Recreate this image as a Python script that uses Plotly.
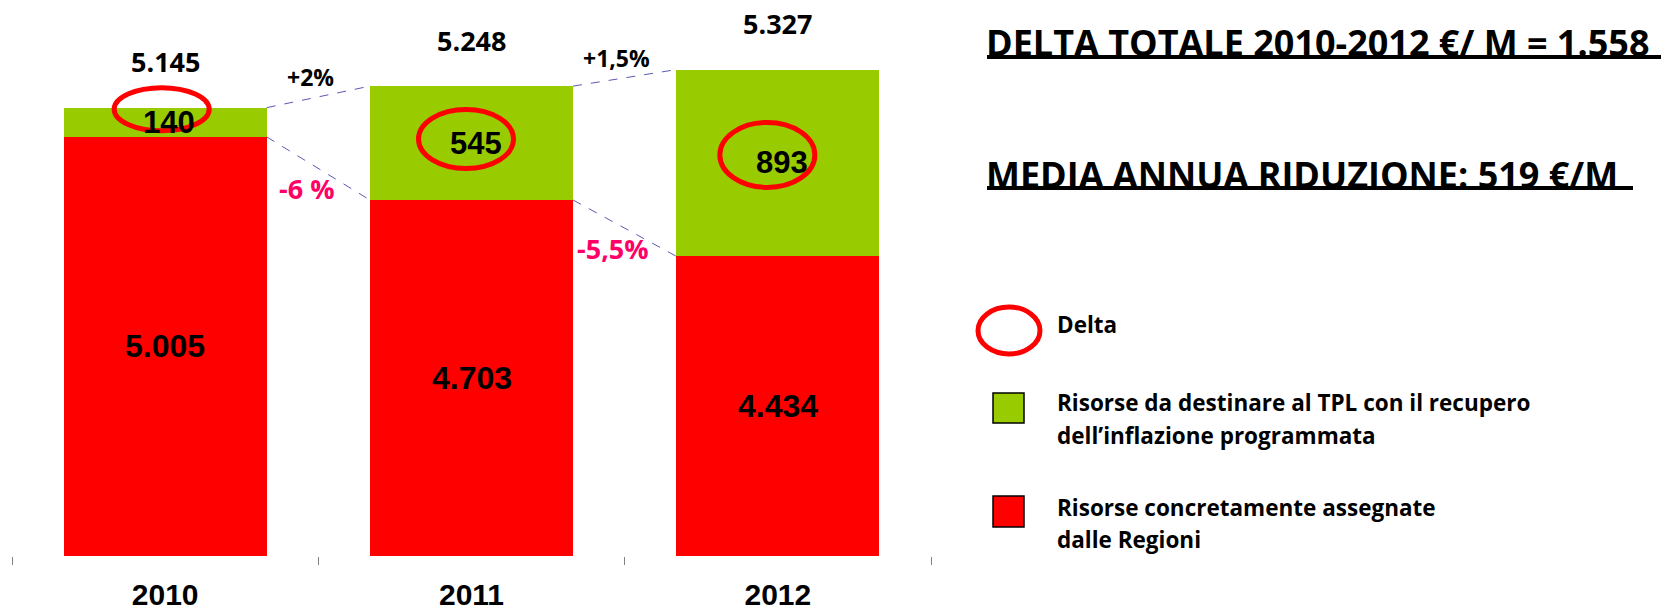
import plotly.graph_objects as go

# dati (milioni di euro)
anni = ['2010', '2011', '2012']
assegnate = [5005, 4703, 4434]      # risorse concretamente assegnate dalle Regioni
delta = [140, 545, 893]             # risorse da destinare con recupero inflazione
totale = [5145, 5248, 5327]
var_totale = ['+2%', '+1,5%']
var_assegnate = ['-6 %', '-5,5%']

titolo1 = 'DELTA TOTALE 2010-2012 €/ M = 1.558'
titolo2 = 'MEDIA ANNUA RIDUZIONE: 519 €/M'
leg_delta = ['Delta']
leg_verde = ['Risorse da destinare al TPL con il recupero', 'dell’inflazione programmata']
leg_rosso = ['Risorse concretamente assegnate', 'dalle Regioni']

# stile
W, H = 1668, 611
VERDE = '#99CC00'
ROSSO = '#FF0000'
ROSA = '#FF0066'
BLU = '#5A5AB4'
Y_MIN = 3000
BAR_W = 0.663
ELL_DX = [-4, -6, -11]
ELL_DY = [13, 4, 8]
ELL_H = [43, 59, 65]
CALIBRI = 'Open Sans'
ARIAL = 'Liberation Sans'


def fmt(v):
    return f'{v:,}'.replace(',', '.')


def px(x):
    return x / W


def py(y):
    return 1 - y / H


fig = go.Figure()
fig.add_trace(go.Bar(x=anni, y=assegnate, marker=dict(color=ROSSO, line=dict(width=0)),
                     width=BAR_W, name='Risorse concretamente assegnate'))
fig.add_trace(go.Bar(x=anni, y=delta, marker=dict(color=VERDE, line=dict(width=0)),
                     width=BAR_W, name='Risorse da destinare al TPL'))

ann = []
shapes = []
for i in range(len(anni)):
    # valori dentro le barre
    ann.append(dict(x=i, y=(Y_MIN + assegnate[i]) / 2, text=fmt(assegnate[i]), showarrow=False,
                    xref='x', yref='y', font=dict(family=ARIAL, size=32, color='black', weight='bold')))
    mid = assegnate[i] + delta[i] / 2
    ann.append(dict(x=i, y=mid, text=fmt(delta[i]), showarrow=False, xshift=4,
                    xref='x', yref='y', font=dict(family=ARIAL, size=31, color='black', weight='bold')))
    ann.append(dict(x=i, y=totale[i], text=fmt(totale[i]), showarrow=False, yshift=46,
                    xref='x', yref='y', font=dict(family=CALIBRI, size=27, color='black', weight='bold')))
    # cerchi rossi sul delta
    shapes.append(dict(type='circle', xref='x', yref='y', xsizemode='pixel', ysizemode='pixel',
                       xanchor=i, yanchor=mid,
                       x0=-47 + ELL_DX[i], x1=48 + ELL_DX[i],
                       y0=-ELL_H[i] / 2 + ELL_DY[i], y1=ELL_H[i] / 2 + ELL_DY[i],
                       line=dict(color=ROSSO, width=5)))

for i in range(len(anni) - 1):
    x0 = i + BAR_W / 2
    x1 = i + 1 - BAR_W / 2
    shapes.append(dict(type='line', xref='x', yref='y', x0=x0, x1=x1, y0=totale[i], y1=totale[i + 1],
                       line=dict(color=BLU, width=1, dash='dash')))
    shapes.append(dict(type='line', xref='x', yref='y', x0=x0, x1=x1, y0=assegnate[i], y1=assegnate[i + 1],
                       line=dict(color=BLU, width=1, dash='dash')))
    ann.append(dict(x=i + 0.5, y=(totale[i] + totale[i + 1]) / 2, text=var_totale[i], showarrow=False,
                    xshift=-8, yshift=20, xref='x', yref='y',
                    font=dict(family=CALIBRI, size=23, color='black', weight='bold')))
    ann.append(dict(x=i + 0.5, y=(assegnate[i] + assegnate[i + 1]) / 2, text=var_assegnate[i], showarrow=False,
                    xshift=-12, yshift=-20, xref='x', yref='y',
                    font=dict(family=CALIBRI, size=27, color=ROSA, weight='bold')))

# titoli a destra
for testo, yc, yu, xr in [(titolo1, 42, 57, 1661), (titolo2, 174, 188, 1633)]:
    ann.append(dict(x=px(984), y=py(yc), text=testo, showarrow=False, xref='paper', yref='paper',
                    xanchor='left', yanchor='middle',
                    font=dict(family=CALIBRI, size=36, color='black', weight='bold')))
    shapes.append(dict(type='line', xref='paper', yref='paper', x0=px(987), x1=px(xr), y0=py(yu), y1=py(yu),
                       line=dict(color='black', width=4)))

# legenda
shapes.append(dict(type='circle', xref='paper', yref='paper', x0=px(978), x1=px(1040), y0=py(354), y1=py(307),
                   line=dict(color=ROSSO, width=5)))
shapes.append(dict(type='rect', xref='paper', yref='paper', x0=px(993), x1=px(1024), y0=py(423), y1=py(393),
                   fillcolor=VERDE, line=dict(color='black', width=1.5)))
shapes.append(dict(type='rect', xref='paper', yref='paper', x0=px(993), x1=px(1024), y0=py(527), y1=py(496),
                   fillcolor=ROSSO, line=dict(color='black', width=1.5)))
for righe, y_prima in [(leg_delta, 324), (leg_verde, 403), (leg_rosso, 507)]:
    for k, riga in enumerate(righe):
        ann.append(dict(x=px(1055), y=py(y_prima + 32 * k), text=riga, showarrow=False,
                        xref='paper', yref='paper', xanchor='left', yanchor='middle',
                        font=dict(family=CALIBRI, size=22.5, color='black', weight='bold')))

fig.update_layout(
    width=W, height=H, barmode='stack', showlegend=False,
    margin=dict(l=0, r=0, t=0, b=0),
    paper_bgcolor='white', plot_bgcolor='white',
    xaxis=dict(type='category', domain=[px(12), px(931)], tickson='boundaries', ticks='outside',
               ticklen=8, tickcolor='#808080', tickwidth=1, showline=False, showgrid=False,
               ticklabelstandoff=18, automargin=False,
               tickfont=dict(family=ARIAL, size=30, color='black', weight='bold')),
    yaxis=dict(range=[Y_MIN, 5660], domain=[1 - 556 / H, 1], visible=False),
    annotations=ann, shapes=shapes,
)

# pagina senza margine, così la figura occupa esattamente la finestra
fig.write_html('out.html', config={'displayModeBar': False},
               post_script="document.body.style.margin='0';")
